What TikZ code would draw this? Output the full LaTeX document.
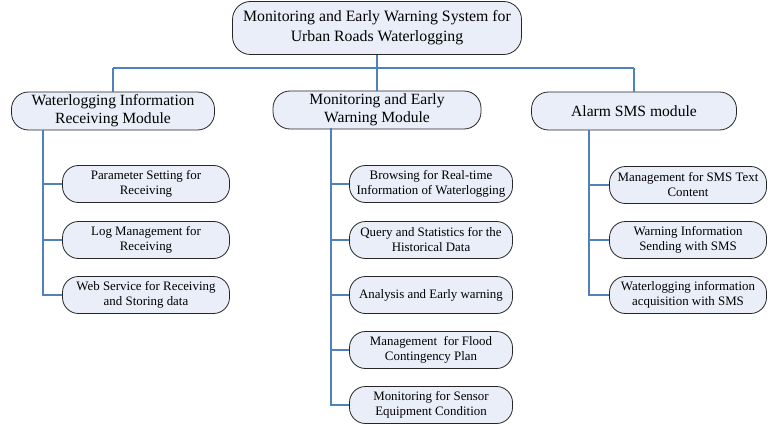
\documentclass[tikz,border=0pt]{standalone}
\usepackage{fontspec}
\setmainfont{Liberation Serif}
\definecolor{boxfill}{RGB}{233,238,248}
\definecolor{linkblue}{RGB}{79,129,189}

\begin{document}
\begin{tikzpicture}[x=1pt, y=-1pt,
	box/.style={draw=black!85, fill=boxfill, line width=0.8pt, align=center, inner sep=0pt},
	sysbox/.style={box, rounded corners=18pt, minimum width=289pt, minimum height=53pt, font=\fontsize{15.8}{20}\selectfont},
	modbox/.style={box, rounded corners=17pt, minimum height=38pt, font=\fontsize{15.6}{18}\selectfont},
	subbox/.style={box, rounded corners=16pt, minimum height=37pt, font=\fontsize{12.9}{15}\selectfont},
	link/.style={draw=linkblue, line width=1.4pt}]
	\useasboundingbox (0,0) rectangle (768,425);

	% Define the nodes with specific positions
	\node[sysbox] (sys) at (377,28) {Monitoring and Early Warning System for\\Urban Roads Waterlogging};

	\node[modbox, minimum width=203pt] (recv) at (113,111) {Waterlogging Information\\Receiving Module};
	\node[modbox, minimum width=208pt] (warn) at (377,110) {Monitoring and Early\\Warning Module};
	\node[modbox, minimum width=205pt] (sms) at (634,111) {Alarm SMS module};

	\begin{scope}[subbox/.append style={minimum width=167pt}]
		\node[subbox] (r1) at (146,184) {Parameter Setting for\\Receiving};
		\node[subbox] (r2) at (146,240) {Log Management for\\Receiving};
		\node[subbox] (r3) at (146,295) {Web Service for Receiving\\and Storing data};
	\end{scope}

	\begin{scope}[subbox/.append style={minimum width=163pt}]
		\node[subbox] (w1) at (431,184) {Browsing for Real-time\\Information of Waterlogging};
		\node[subbox] (w2) at (431,240) {Query and Statistics for the\\Historical Data};
		\node[subbox] (w3) at (431,295) {Analysis and Early warning};
		\node[subbox] (w4) at (431,350) {Management\ \ for Flood\\Contingency Plan};
		\node[subbox] (w5) at (431,405) {Monitoring for Sensor\\Equipment Condition};
	\end{scope}

	\begin{scope}[subbox/.append style={minimum width=157pt}]
		\node[subbox] (s1) at (688,185) {Management for SMS Text\\Content};
		\node[subbox] (s2) at (688,240) {Warning Information\\Sending with SMS};
		\node[subbox] (s3) at (688,295) {Waterlogging information\\acquisition with SMS};
	\end{scope}

	% Bus between the system and its modules
	\coordinate (busL) at (113,68);
	\coordinate (busR) at (634,68);
	\draw[link] (busL) -- (busR);
	\draw[link] (sys) -- (sys |- busL);
	\draw[link] (busL) -- (recv);
	\draw[link] (warn |- busL) -- (warn);
	\draw[link] (busR) -- (sms);

	% Trunks down to the sub modules
	\coordinate (trunkR) at (43,130);
	\coordinate (trunkW) at (331,128);
	\coordinate (trunkS) at (589,130);
	\foreach \n in {r1,r2,r3}
		\draw[link] (trunkR) |- (\n);
	\foreach \n in {w1,w2,w3,w4,w5}
		\draw[link] (trunkW) |- (\n);
	\foreach \n in {s1,s2,s3}
		\draw[link] (trunkS) |- (\n);
\end{tikzpicture}
\end{document}
